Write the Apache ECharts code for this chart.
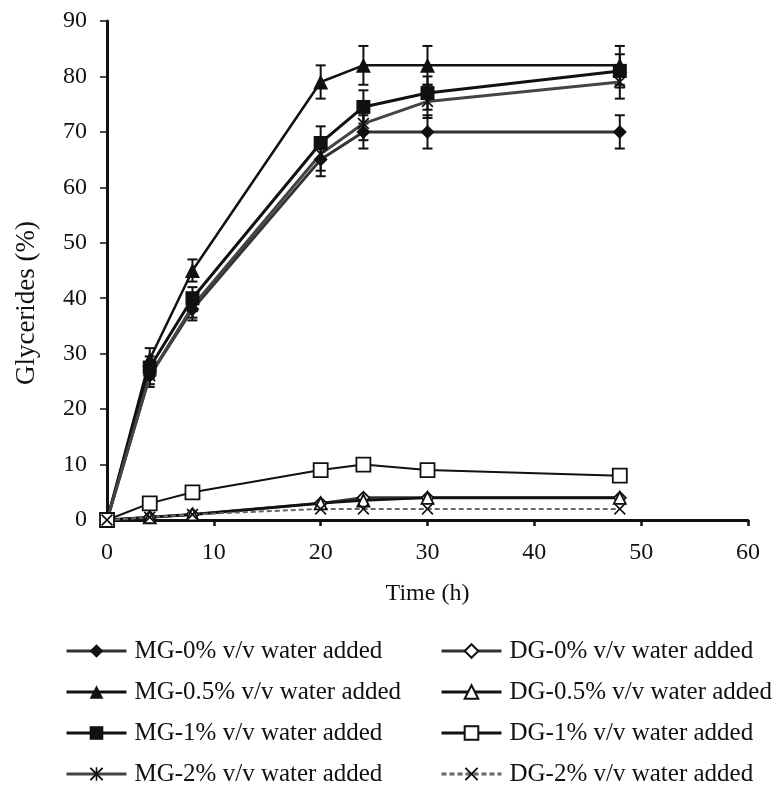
<!DOCTYPE html>
<html>
<head>
<meta charset="utf-8">
<script src="https://cdn.jsdelivr.net/npm/echarts@6/dist/echarts.min.js"></script>
<style>
html,body{margin:0;padding:0;background:#fff;}
#chart{width:779px;height:798px;}
</style>
</head>
<body>
<div id="chart"></div>
<script>
// ---- data ----
const timeH = [0, 4, 8, 20, 24, 30, 48];
const xTicks = [0, 10, 20, 30, 40, 50, 60];
const yTicks = [0, 10, 20, 30, 40, 50, 60, 70, 80, 90];

const mg0  = [0, 26, 38, 65, 70, 70, 70];
const mg05 = [0, 29, 45, 79, 82, 82, 82];
const mg1  = [0, 27.5, 40, 68, 74.5, 77, 81];
const mg2  = [0, 26, 38.5, 66, 71.5, 75.5, 79];
const dg0  = [0, 0.5, 1, 3, 4, 4, 4];
const dg05 = [0, 0.5, 1, 3, 3.5, 4, 4];
const dg1  = [0, 3, 5, 9, 10, 9, 8];
const dg2  = [0, 0.5, 1, 2, 2, 2, 2];

const mg0Err  = [0, 1.5, 2, 3, 3, 3, 3];
const mg05Err = [0, 2, 2, 3, 3.5, 3.5, 3.5];
const mg1Err  = [0, 2, 2, 3, 3, 3, 3];
const mg2Err  = [0, 2, 2, 3, 3, 3, 3];

const names = [
  'MG-0% v/v water added', 'MG-0.5% v/v water added', 'MG-1% v/v water added', 'MG-2% v/v water added',
  'DG-0% v/v water added', 'DG-0.5% v/v water added', 'DG-1% v/v water added', 'DG-2% v/v water added'
];
const xTitle = 'Time (h)';
const yTitle = 'Glycerides (%)';

// ---- build ----
const FONT = 'Liberation Serif';
const pairs = v => timeH.map((t, i) => [t, v[i]]);
const errData = (v, e) => timeH.map((t, i) => [t, v[i] - e[i], v[i] + e[i]]);

const starPath = 'path://M0,1L1,0L5,4L9,0L10,1L6,5L10,9L9,10L5,6L1,10L0,9L4,5Z M4.4,0L5.6,0L5.6,10L4.4,10Z';
const xPath = 'path://M0,1L1,0L5,4L9,0L10,1L6,5L10,9L9,10L5,6L1,10L0,9L4,5Z';

function lineSeries(name, v, symbol, size, filled, lw, color, dashed, z) {
  return {
    name, type: 'line', data: pairs(v), symbol, symbolSize: size, z: z || 3,
    lineStyle: { color: color, width: lw, type: dashed ? [5, 3] : 'solid' },
    itemStyle: filled
      ? { color: '#111', borderColor: '#111', borderWidth: 0 }
      : { color: '#fff', borderColor: '#111', borderWidth: 1.8 },
    emphasis: { disabled: true },
    animation: false
  };
}

function errSeries(v, e) {
  return {
    type: 'custom', data: errData(v, e), z: 2, silent: true, animation: false,
    renderItem(params, api) {
      const x = api.value(0);
      const lo = api.coord([x, api.value(1)]);
      const hi = api.coord([x, api.value(2)]);
      const w = 5;
      return {
        type: 'group', children: [
          { type: 'line', shape: { x1: lo[0], y1: lo[1], x2: hi[0], y2: hi[1] }, style: { stroke: '#111', lineWidth: 2 } },
          { type: 'line', shape: { x1: lo[0] - w, y1: lo[1], x2: lo[0] + w, y2: lo[1] }, style: { stroke: '#111', lineWidth: 2 } },
          { type: 'line', shape: { x1: hi[0] - w, y1: hi[1], x2: hi[0] + w, y2: hi[1] }, style: { stroke: '#111', lineWidth: 2 } }
        ]
      };
    }
  };
}

const series = [
  errSeries(mg0, mg0Err), errSeries(mg05, mg05Err), errSeries(mg1, mg1Err), errSeries(mg2, mg2Err),
  lineSeries(names[0], mg0, 'diamond', 14, true, 3, '#333'),
  lineSeries(names[1], mg05, 'triangle', 15, true, 2.5, '#111'),
  lineSeries(names[2], mg1, 'rect', 14, true, 3, '#111'),
  lineSeries(names[3], mg2, starPath, 12, true, 3, '#444'),
  lineSeries(names[4], dg0, 'diamond', 12, false, 3, '#333', false, 4),
  lineSeries(names[5], dg05, 'triangle', 12, false, 2.5, '#111', false, 4),
  lineSeries(names[6], dg1, 'rect', 14, false, 2, '#111', false, 4),
  lineSeries(names[7], dg2, xPath, 12, true, 2, '#666', true, 4)
];

const legendBase = {
  orient: 'vertical', itemWidth: 60, itemHeight: 17, itemGap: 15,
  lineStyle: { width: 3 },
  textStyle: { fontFamily: FONT, fontSize: 25, color: '#111', lineHeight: 26, padding: [0, 0, 0, 3] },
  selectedMode: false
};

const chart = echarts.init(document.getElementById('chart'), null, { renderer: 'canvas' });
chart.setOption({
  backgroundColor: '#fff',
  animation: false,
  grid: { left: 107, right: 31, top: 21, bottom: 278, containLabel: false },
  xAxis: {
    type: 'value', min: xTicks[0], max: xTicks[xTicks.length - 1], interval: 10,
    name: xTitle, nameLocation: 'middle', nameGap: 62,
    nameTextStyle: { fontFamily: FONT, fontSize: 24, color: '#111' },
    axisLine: { lineStyle: { color: '#111', width: 3 } },
    axisTick: { show: true, length: 6, lineStyle: { color: '#111', width: 2.5 } },
    axisLabel: { fontFamily: FONT, fontSize: 24, color: '#111', margin: 21 },
    splitLine: { show: false }
  },
  yAxis: {
    type: 'value', min: yTicks[0], max: yTicks[yTicks.length - 1], interval: 10,
    axisLine: { show: true, lineStyle: { color: '#111', width: 3 } },
    axisTick: { show: true, length: 7, lineStyle: { color: '#111', width: 1.5 } },
    axisLabel: { fontFamily: FONT, fontSize: 24, color: '#111', margin: 20 },
    splitLine: { show: false }
  },
  graphic: [{
    type: 'text', x: 27, y: 303, rotation: Math.PI / 2,
    style: { text: yTitle, font: '27px "Liberation Serif"', fill: '#111', align: 'center', verticalAlign: 'middle' }
  }],
  legend: [
    Object.assign({}, legendBase, { data: names.slice(0, 4), left: 60, top: 633 }),
    Object.assign({}, legendBase, { data: names.slice(4, 8), left: 435, top: 633 })
  ],
  series
});
</script>
</body>
</html>
